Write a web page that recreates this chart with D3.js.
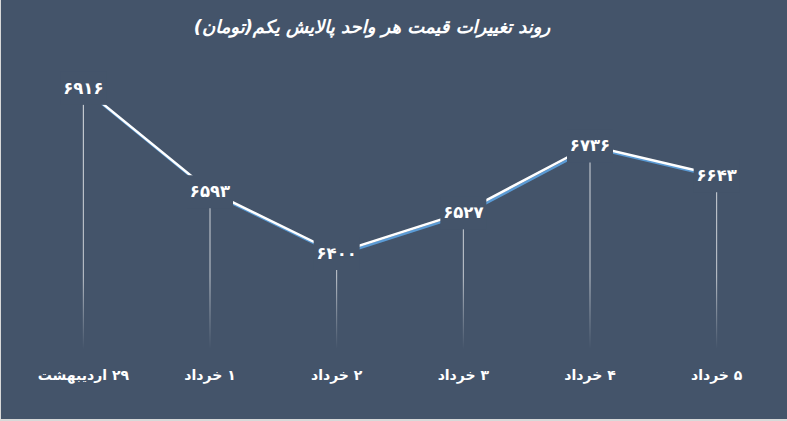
<!DOCTYPE html>
<html><head><meta charset="utf-8">
<script src="https://cdn.jsdelivr.net/npm/d3@7"></script>
<style>
html,body{margin:0;padding:0;background:#fff;}
svg{display:block;}
text{font-family:"DejaVu Sans",sans-serif;}
</style></head>
<body>
<script>
const title = "روند تغییرات قیمت هر واحد پالایش یکم(تومان)";
const categories = ["۲۹ اردیبهشت","۱ خرداد","۲ خرداد","۳ خرداد","۴ خرداد","۵ خرداد"];
const values = [6916, 6593, 6400, 6527, 6736, 6643];
const valueLabels = ["۶۹۱۶","۶۵۹۳","۶۴۰۰","۶۵۲۷","۶۷۳۶","۶۶۴۳"];
const yDomain = [6100, 7000];

const W = 787, H = 421, bg = "#44546a";
const svg = d3.select("body").append("svg").attr("width", W).attr("height", H);
svg.append("rect").attr("x",0).attr("y",0).attr("width",W).attr("height",H).attr("fill","#d9d9d9");
svg.append("rect").attr("x",1).attr("y",0).attr("width",W-1).attr("height",419).attr("fill",bg);

const defs = svg.append("defs");
const grad = defs.append("linearGradient").attr("id","dropGrad")
  .attr("gradientUnits","userSpaceOnUse").attr("x1",0).attr("x2",0).attr("y1",60).attr("y2",349);
grad.append("stop").attr("offset","0%").attr("stop-color","#ffffff").attr("stop-opacity",0.85);
grad.append("stop").attr("offset","75%").attr("stop-color","#ffffff").attr("stop-opacity",0.7);
grad.append("stop").attr("offset","100%").attr("stop-color","#ffffff").attr("stop-opacity",0);

const x = d3.scalePoint().domain(categories).range([20, 780]).padding(0.5);
const y = d3.scaleLinear().domain(yDomain).range([349, 61]);

const data = categories.map((c,i)=>({c, v: values[i], l: valueLabels[i]}));

// drop lines
svg.append("g").selectAll("line").data(data).join("line")
  .attr("x1", d=>x(d.c)).attr("x2", d=>x(d.c))
  .attr("y1", d=>y(d.v)).attr("y2", y(yDomain[0]))
  .attr("stroke","url(#dropGrad)").attr("stroke-width",1);

const line = d3.line().x(d=>x(d.c)).y(d=>y(d.v));
// shadow
svg.append("path").datum(data).attr("d", line).attr("fill","none")
  .attr("stroke","#5b9bd5").attr("stroke-width",2.5).attr("transform","translate(1.5,2)");
svg.append("path").datum(data).attr("d", line).attr("fill","none")
  .attr("stroke","#ffffff").attr("stroke-width",2.5);

// data labels
const lg = svg.append("g").selectAll("g").data(data).join("g")
  .attr("transform", d=>`translate(${x(d.c)},${y(d.v)})`);
lg.append("rect").attr("x",-23).attr("y",-16).attr("width",46).attr("height",33).attr("fill",bg);
lg.append("text").attr("text-anchor","middle").attr("dy","0.35em")
  .attr("fill","#fff").attr("font-weight","bold").attr("font-size",16.5)
  .text(d=>d.l);

// category labels
svg.append("g").selectAll("text").data(data).join("text")
  .attr("x", d=>x(d.c)).attr("y", 380)
  .attr("text-anchor","middle").attr("direction","rtl")
  .attr("fill","#fff").attr("font-weight","bold").attr("font-size",14)
  .text(d=>d.c);

// title
svg.append("text").attr("x",372).attr("y",33).attr("text-anchor","middle").attr("direction","rtl")
  .attr("fill","#fff").attr("font-weight","bold").attr("font-style","italic").attr("font-size",18)
  .text(title);
</script>
</body></html>
